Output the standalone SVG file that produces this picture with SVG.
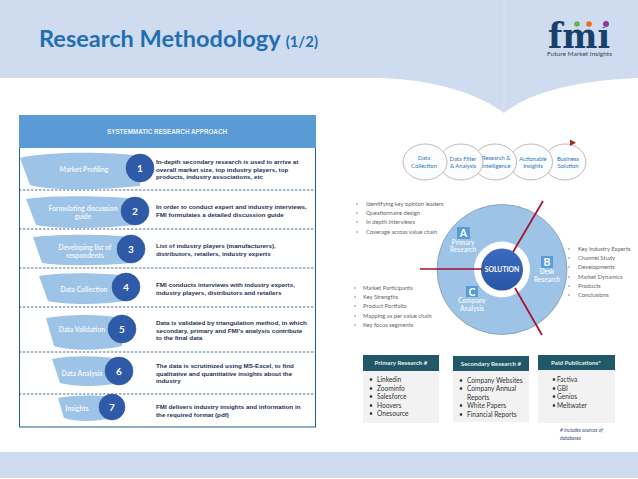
<svg xmlns="http://www.w3.org/2000/svg" width="638" height="479" viewBox="0 0 638 479">
<style>
text{font-family:Lato,"Open Sans","Liberation Sans",sans-serif}
.ar{font-family:"Liberation Sans",Arial,sans-serif;font-size:6.25px;font-weight:bold;fill:#1f2f55}
.blob{fill:#9dc3e6}
.bl{font-size:6.8px;fill:#f2f6fb;text-anchor:middle;font-weight:bold}
.num{fill:#2f5aa8;stroke:#2a5298;stroke-width:.5}
.nt{font-size:10px;fill:#fff;text-anchor:middle;font-weight:bold}
.dash{stroke:#1f4e79;stroke-width:.8;stroke-dasharray:2.5 1.5;fill:none}
.el{fill:#fcfdfe;stroke:#b5a6a0;stroke-width:.8}
.et{font-size:5.800px;fill:#2e75b6;text-anchor:middle}
.li{font-size:5.800px;fill:#666}
.dot{fill:#8fc0d8}
.ln{stroke:#a3122a;stroke-width:1.7;fill:none}
.wt{font-size:6.500px;fill:#eef4fb;text-anchor:middle;font-weight:bold}
.sq{fill:#5b9bd5}
.sqt{font-size:10.500px;fill:#fff;text-anchor:middle;font-weight:bold}
.hd{fill:#215868}
.body{fill:#f2f2f2}
.ht{font-size:6.200px;fill:#e8eef0;text-anchor:middle;font-weight:bold}
.bt{font-size:6.600px;fill:#333}
</style>
<defs>
<linearGradient id="ag" x1="0" x2="1" y1="0" y2="0"><stop offset="0" stop-color="#a62b2b" stop-opacity="0"/><stop offset="1" stop-color="#a62b2b"/></linearGradient>
<linearGradient id="sg" x1="0" x2="0" y1="0" y2="1"><stop offset="0" stop-color="#3a6cc0"/><stop offset="1" stop-color="#2a55a5"/></linearGradient>
</defs>
<rect width="638" height="479" fill="#fff"/>
<g id="banner">
<path d="M0 0H638V78C590 80 535 88 504 113C470 88 420 78 370 78H0Z" fill="#cfdbee"/>
<path d="M504 0V113" stroke="#dfe7f4" stroke-width=".7"/>
<rect y="452" width="638" height="26" fill="#cfdbee"/>
<text x="39" y="47" font-size="23" font-weight="bold" fill="#1f6fb2" textLength="279" lengthAdjust="spacingAndGlyphs">Research Methodology <tspan font-size="14.500">(1/2)</tspan></text>
</g>
<g id="logo">
<text x="548" y="48" font-size="36" font-weight="bold" fill="#17406d" textLength="62" lengthAdjust="spacingAndGlyphs" style="font-family:'DejaVu Serif',serif">fmi</text>
<rect x="598" y="19" width="14" height="8" fill="#cfdbee"/>
<circle cx="577" cy="24" r="2.800" fill="#6ab04c"/><circle cx="589" cy="24" r="2.800" fill="#e8701a"/><circle cx="606" cy="24" r="3" fill="#8e3a9d"/>
<text x="579.500" y="56" font-size="5.400" fill="#33475f" text-anchor="middle" textLength="65" lengthAdjust="spacingAndGlyphs">Future Market Insights</text>
</g>
<g id="approach-panel">
<rect x="19.500" y="115.500" width="296" height="311.500" fill="#fff" stroke="#1f5f8b" stroke-width="1"/>
<rect x="19" y="115" width="297" height="33" fill="#5b9bd5"/>
<text x="167" y="134" font-size="6.300" font-weight="bold" fill="#e9f1f9" text-anchor="middle" style="font-family:'Liberation Sans',sans-serif">SYSTEMMATIC RESEARCH APPROACH</text>
</g>
<g id="step1"><path class="blob" d="M20 158C50 151 110 152 140 156V186C100 190 50 191 30 185Z"/><circle class="num" cx="140" cy="168" r="14"/><text class="nt" x="140" y="172">1</text><text class="bl" x="84" y="172">Market Profiling</text>
<text class="ar" x="156" y="164">In-depth secondary research is used to arrive at</text><text class="ar" x="156" y="172">overall market size, top industry players, top</text><text class="ar" x="156" y="179">products, industry associations, etc</text></g>
<g id="step2"><path class="blob" d="M26 199C55 195 110 196 135 199V225C100 229 55 229 36 225Z"/><circle class="num" cx="135" cy="211" r="14"/><text class="nt" x="135" y="215">2</text><text class="bl" x="83" y="211">Formulating discussion</text><text class="bl" x="83" y="219">guide</text>
<text class="ar" x="156" y="209">In order to conduct expert and industry interviews,</text><text class="ar" x="156" y="216.500">FMI formulates a detailed discussion guide</text></g>
<g id="step3"><path class="blob" d="M33 237C60 234 105 234 131 237V263C100 266 60 266 42 263Z"/><circle class="num" cx="131" cy="249" r="14"/><text class="nt" x="131" y="253">3</text><text class="bl" x="85" y="250">Developing list of</text><text class="bl" x="85" y="258">respondents</text>
<text class="ar" x="156" y="248">List of industry players (manufacturers),</text><text class="ar" x="156" y="256">distributors, retailers, industry experts</text></g>
<g id="step4"><path class="blob" d="M39 276C65 272 105 273 126 276V301C100 305 65 305 48 301Z"/><circle class="num" cx="126" cy="287" r="14"/><text class="nt" x="126" y="291">4</text><text class="bl" x="84" y="292">Data Collection</text>
<text class="ar" x="156" y="287">FMI conducts interviews with industry experts,</text><text class="ar" x="156" y="295">industry players, distributors and retailers</text></g>
<g id="step5"><path class="blob" d="M46 318C70 314 100 314 122 318V346C100 351 70 351 54 346Z"/><circle class="num" cx="122" cy="329" r="14"/><text class="nt" x="83" y="332" style="display:none"></text><text class="nt" x="122" y="333">5</text><text class="bl" x="82" y="332">Data Validation</text>
<text class="ar" x="156" y="325">Data is validated by triangulation method, in which</text><text class="ar" x="156" y="332.500">secondary, primary and FMI's analysis contribute</text><text class="ar" x="156" y="340">to the final data</text></g>
<g id="step6"><path class="blob" d="M52 359C75 355 100 356 119 359V383C100 387 75 387 60 383Z"/><circle class="num" cx="119" cy="371" r="14"/><text class="nt" x="119" y="375">6</text><text class="bl" x="82" y="376">Data Analysis</text>
<text class="ar" x="156" y="368">The data is scrutinized using MS-Excel, to find</text><text class="ar" x="156" y="375.500">qualitative and quantitative insights about the</text><text class="ar" x="156" y="383">industry</text></g>
<g id="step7"><path class="blob" d="M58 398C75 395 95 395 112 397V418C95 422 75 422 64 418Z"/><circle class="num" cx="112" cy="407" r="13"/><text class="nt" x="112" y="411">7</text><text class="bl" x="77" y="411">Insights</text>
<text class="ar" x="156" y="409">FMI delivers industry insights and information in</text><text class="ar" x="156" y="417">the required format (pdf)</text></g>
<g id="flow5"><ellipse class="el" cx="565" cy="162" rx="21" ry="18"/><text class="et" x="568" y="161">Business</text><text class="et" x="568" y="168">Solution</text></g>
<g id="flow4"><ellipse class="el" cx="531" cy="162" rx="21.500" ry="18"/><text class="et" x="533" y="161">Actionable</text><text class="et" x="533" y="168">Insights</text></g>
<g id="flow3"><ellipse class="el" cx="495" cy="162" rx="21.500" ry="18"/><text class="et" x="496" y="160">Research &amp;</text><text class="et" x="496" y="168">Intelligence</text></g>
<g id="flow2"><ellipse class="el" cx="461" cy="162" rx="22" ry="18"/><text class="et" x="463" y="161">Data Filter</text><text class="et" x="463" y="168">&amp; Analysis</text></g>
<g id="flow1"><ellipse class="el" cx="425" cy="162" rx="22" ry="18"/><text class="et" x="424" y="160">Data</text><text class="et" x="424" y="168">Collection</text></g>
<g id="solution-wheel">
<circle cx="502" cy="269.500" r="65" fill="#9dc3e6" stroke="#7d8ea5" stroke-width=".7"/>
<circle cx="502" cy="269.500" r="28" fill="#fff"/>
<circle cx="502" cy="269.500" r="21" fill="url(#sg)"/>
<text x="502" y="272" font-size="6.800" fill="#fff" text-anchor="middle" font-weight="bold">SOLUTION</text>
<rect class="sq" x="457" y="227" width="13" height="12"/><text class="sqt" x="463.500" y="237">A</text>
<text class="wt" x="463" y="245">Primary</text><text class="wt" x="463" y="252">Research</text>
<rect class="sq" x="541" y="256" width="12" height="12"/><text class="sqt" x="547" y="266">B</text>
<text class="wt" x="547" y="274">Desk</text><text class="wt" x="547" y="282">Research</text>
<rect class="sq" x="466" y="286" width="12" height="11"/><text class="sqt" x="472" y="296">C</text>
<text class="wt" x="472" y="303">Company</text><text class="wt" x="472" y="311">Analysis</text>
</g>
<g id="connectors">
<path class="dash" d="M19 190H316M19 229H316M19 268H316M19 307H316M19 352H316M19 394H316"/>
<path d="M434 142.800H572" stroke="url(#ag)" stroke-width="2.200"/>
<path d="M570 139.500L576 142.800L570 146Z" fill="#a62b2b"/>
<path class="ln" d="M420 269H482M543 201L513 252M542 335L515 288"/>
</g>
<g id="list-a"><circle class="dot" cx="357" cy="204" r="1"/><circle class="dot" cx="357" cy="213" r="1"/><circle class="dot" cx="357" cy="222" r="1"/><circle class="dot" cx="357" cy="232" r="1"/>
<text class="li" x="366" y="206">Identifying key opinion leaders</text><text class="li" x="366" y="215">Questionnaire design</text><text class="li" x="366" y="224">In depth interviews</text><text class="li" x="366" y="234">Coverage across value chain</text></g>
<g id="list-c"><circle class="dot" cx="355" cy="288" r="1"/><circle class="dot" cx="355" cy="297" r="1"/><circle class="dot" cx="355" cy="306" r="1"/><circle class="dot" cx="355" cy="316" r="1"/><circle class="dot" cx="355" cy="325" r="1"/>
<text class="li" x="363" y="290">Market Participants</text><text class="li" x="363" y="299">Key Strengths</text><text class="li" x="363" y="308">Product Portfolio</text><text class="li" x="363" y="318">Mapping as per value chain</text><text class="li" x="363" y="327">Key focus segments</text></g>
<g id="list-b"><circle class="dot" cx="569" cy="249" r="1"/><circle class="dot" cx="569" cy="258" r="1"/><circle class="dot" cx="569" cy="267" r="1"/><circle class="dot" cx="569" cy="277" r="1"/><circle class="dot" cx="569" cy="286" r="1"/><circle class="dot" cx="569" cy="295" r="1"/>
<text class="li" x="578" y="251">Key Industry Experts</text><text class="li" x="578" y="260">Channel Study</text><text class="li" x="578" y="269">Developments</text><text class="li" x="578" y="279">Market Dynamics</text><text class="li" x="578" y="288">Products</text><text class="li" x="578" y="297">Conclusions</text></g>
<g id="primary-box"><rect class="body" x="363" y="355" width="76" height="68"/><rect class="hd" x="363" y="355" width="76" height="16"/><text class="ht" x="401" y="365">Primary Research #</text>
<text class="bt" x="369" y="382">•</text><text class="bt" x="377" y="382">Linkedin</text><text class="bt" x="369" y="391">•</text><text class="bt" x="377" y="391">Zoominfo</text><text class="bt" x="369" y="399">•</text><text class="bt" x="377" y="399">Salesforce</text><text class="bt" x="369" y="408">•</text><text class="bt" x="377" y="408">Hoovers</text><text class="bt" x="369" y="416">•</text><text class="bt" x="377" y="416">Onesource</text></g>
<g id="secondary-box"><rect class="body" x="453" y="356" width="76" height="66"/><rect class="hd" x="453" y="356" width="76" height="15"/><text class="ht" x="491" y="366">Secondary Research #</text>
<text class="bt" x="459" y="383">•</text><text class="bt" x="467" y="383">Company Websites</text><text class="bt" x="459" y="391">•</text><text class="bt" x="467" y="391">Company Annual</text><text class="bt" x="467" y="400">Reports</text><text class="bt" x="459" y="408">•</text><text class="bt" x="467" y="408">White Papers</text><text class="bt" x="459" y="417">•</text><text class="bt" x="467" y="417">Financial Reports</text></g>
<g id="paid-box"><rect class="body" x="538" y="355" width="77" height="68"/><rect class="hd" x="538" y="355" width="77" height="15"/><text class="ht" x="576" y="365">Paid Publications*</text>
<text class="bt" x="552" y="382">•</text><text class="bt" x="553" y="382" dx="4">Factiva</text><text class="bt" x="552" y="391">•</text><text class="bt" x="553" y="391" dx="4">GBI</text><text class="bt" x="552" y="399">•</text><text class="bt" x="553" y="399" dx="4">Genios</text><text class="bt" x="552" y="408">•</text><text class="bt" x="553" y="408" dx="4">Meltwater</text></g>
<g id="footnote"><text x="560" y="432" font-size="5" font-style="italic" fill="#3b4f78"># includes sources of</text><text x="560" y="440" font-size="5" font-style="italic" fill="#3b4f78">databases</text></g>
</svg>
